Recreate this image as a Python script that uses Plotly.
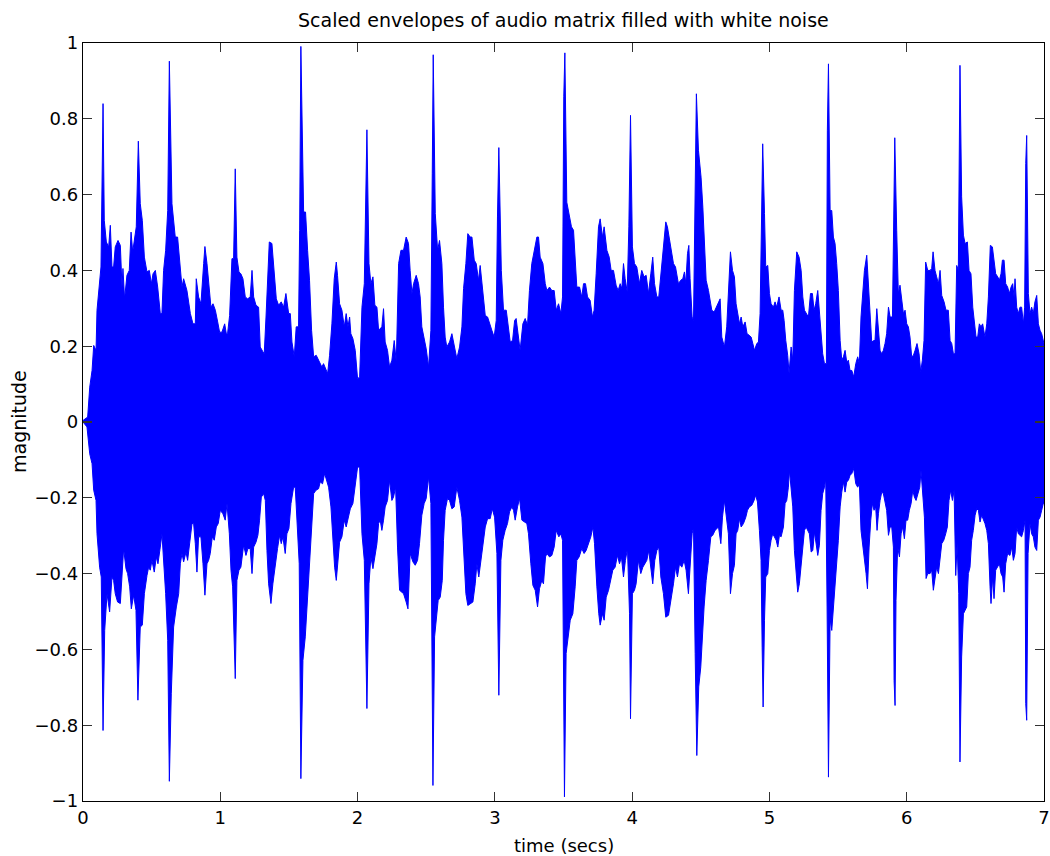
import plotly.graph_objects as go

# Upper envelope of the waveform (time in seconds, magnitude)
t_upper = [0.000, 0.017, 0.034, 0.049, 0.066, 0.078, 0.095, 0.102, 0.121, 0.131, 0.146, 0.155, 0.170, 0.187, 0.199, 0.211, 0.223, 0.235, 0.255, 0.272,
           0.284, 0.291, 0.303, 0.320, 0.337, 0.350, 0.362, 0.376, 0.388, 0.403, 0.417, 0.432, 0.447, 0.466, 0.483, 0.498, 0.510, 0.527, 0.544, 0.563,
           0.575, 0.587, 0.602, 0.617, 0.629, 0.648, 0.672, 0.689, 0.704, 0.721, 0.733, 0.757, 0.782, 0.801, 0.818, 0.825, 0.842, 0.859, 0.879, 0.888,
           0.903, 0.915, 0.932, 0.947, 0.964, 0.981, 0.995, 1.012, 1.032, 1.044, 1.053, 1.068, 1.085, 1.097, 1.109, 1.121, 1.136, 1.150, 1.165, 1.182,
           1.199, 1.218, 1.231, 1.243, 1.260, 1.279, 1.291, 1.311, 1.320, 1.333, 1.347, 1.357, 1.376, 1.388, 1.408, 1.425, 1.444, 1.461, 1.478, 1.498,
           1.510, 1.522, 1.539, 1.553, 1.570, 1.578, 1.587, 1.607, 1.621, 1.636, 1.650, 1.665, 1.680, 1.699, 1.716, 1.728, 1.740, 1.752, 1.769, 1.782,
           1.796, 1.813, 1.830, 1.845, 1.854, 1.869, 1.886, 1.903, 1.917, 1.930, 1.942, 1.951, 1.966, 1.983, 2.000, 2.015, 2.032, 2.049, 2.068, 2.083,
           2.097, 2.112, 2.126, 2.141, 2.153, 2.165, 2.177, 2.189, 2.201, 2.218, 2.233, 2.250, 2.267, 2.282, 2.299, 2.316, 2.335, 2.354, 2.371, 2.383,
           2.396, 2.408, 2.427, 2.444, 2.456, 2.468, 2.485, 2.500, 2.517, 2.534, 2.544, 2.551, 2.566, 2.583, 2.597, 2.614, 2.626, 2.638, 2.650, 2.670,
           2.687, 2.704, 2.723, 2.743, 2.760, 2.772, 2.789, 2.803, 2.820, 2.833, 2.850, 2.864, 2.881, 2.893, 2.910, 2.930, 2.947, 2.961, 2.978, 2.995,
           3.010, 3.019, 3.029, 3.047, 3.063, 3.083, 3.100, 3.112, 3.129, 3.144, 3.155, 3.172, 3.184, 3.204, 3.221, 3.238, 3.252, 3.269, 3.286, 3.306,
           3.318, 3.330, 3.350, 3.367, 3.379, 3.398, 3.415, 3.432, 3.447, 3.464, 3.481, 3.493, 3.502, 3.510, 3.524, 3.544, 3.558, 3.573, 3.585, 3.597,
           3.617, 3.633, 3.646, 3.660, 3.675, 3.694, 3.711, 3.723, 3.738, 3.755, 3.767, 3.784, 3.796, 3.816, 3.833, 3.847, 3.864, 3.883, 3.898, 3.913,
           3.925, 3.937, 3.949, 3.964, 3.976, 3.988, 4.002, 4.017, 4.034, 4.053, 4.070, 4.087, 4.102, 4.119, 4.136, 4.150, 4.163, 4.180, 4.194, 4.209,
           4.228, 4.245, 4.257, 4.272, 4.289, 4.301, 4.316, 4.325, 4.337, 4.354, 4.369, 4.381, 4.391, 4.403, 4.413, 4.422, 4.437, 4.447, 4.459, 4.468,
           4.483, 4.502, 4.515, 4.524, 4.539, 4.556, 4.568, 4.580, 4.597, 4.641, 4.653, 4.672, 4.689, 4.701, 4.716, 4.731, 4.745, 4.757, 4.769, 4.782,
           4.794, 4.806, 4.823, 4.837, 4.852, 4.867, 4.879, 4.891, 4.908, 4.920, 4.932, 4.944, 4.951, 4.964, 4.973, 4.988, 5.000, 5.012, 5.029, 5.041,
           5.053, 5.070, 5.085, 5.097, 5.107, 5.119, 5.133, 5.143, 5.158, 5.170, 5.182, 5.199, 5.216, 5.231, 5.243, 5.255, 5.269, 5.284, 5.299, 5.313,
           5.325, 5.337, 5.352, 5.364, 5.376, 5.388, 5.401, 5.415, 5.422, 5.430, 5.442, 5.454, 5.466, 5.478, 5.490, 5.502, 5.515, 5.527, 5.539, 5.551,
           5.563, 5.575, 5.587, 5.600, 5.614, 5.629, 5.643, 5.655, 5.667, 5.680, 5.692, 5.709, 5.721, 5.733, 5.745, 5.760, 5.769, 5.782, 5.794, 5.806,
           5.818, 5.830, 5.842, 5.854, 5.867, 5.879, 5.896, 5.905, 5.913, 5.927, 5.939, 5.951, 5.964, 5.976, 5.988, 6.000, 6.012, 6.024, 6.036, 6.049,
           6.061, 6.075, 6.090, 6.102, 6.114, 6.126, 6.138, 6.153, 6.170, 6.182, 6.192, 6.206, 6.218, 6.231, 6.243, 6.255, 6.272, 6.286, 6.303, 6.316,
           6.328, 6.340, 6.352, 6.364, 6.376, 6.388, 6.400, 6.413, 6.425, 6.442, 6.454, 6.468, 6.481, 6.493, 6.505, 6.517, 6.529, 6.541, 6.553, 6.570,
           6.583, 6.595, 6.609, 6.624, 6.636, 6.648, 6.663, 6.675, 6.687, 6.697, 6.709, 6.721, 6.735, 6.748, 6.760, 6.772, 6.782, 6.789, 6.801, 6.813,
           6.825, 6.837, 6.850, 6.859, 6.867, 6.874, 6.886, 6.898, 6.910, 6.922, 6.934, 6.947, 6.959, 6.971, 6.983, 6.995, 7.000]
v_upper = [0.004, 0.009, 0.013, 0.092, 0.136, 0.202, 0.189, 0.295, 0.383, 0.409, 0.840, 0.532, 0.475, 0.462, 0.519, 0.409, 0.409, 0.462, 0.479, 0.466,
           0.356, 0.405, 0.325, 0.387, 0.400, 0.501, 0.449, 0.488, 0.515, 0.741, 0.576, 0.532, 0.435, 0.396, 0.400, 0.365, 0.391, 0.400, 0.356, 0.286,
           0.286, 0.400, 0.453, 0.558, 0.952, 0.576, 0.488, 0.488, 0.427, 0.356, 0.378, 0.347, 0.286, 0.259, 0.259, 0.378, 0.330, 0.312, 0.418, 0.463,
           0.418, 0.365, 0.303, 0.312, 0.295, 0.264, 0.237, 0.237, 0.259, 0.233, 0.233, 0.281, 0.431, 0.431, 0.668, 0.435, 0.396, 0.391, 0.378, 0.330,
           0.325, 0.330, 0.400, 0.330, 0.308, 0.303, 0.198, 0.185, 0.180, 0.277, 0.418, 0.475, 0.471, 0.418, 0.325, 0.308, 0.317, 0.303, 0.339, 0.286,
           0.286, 0.211, 0.172, 0.251, 0.251, 0.506, 0.991, 0.554, 0.554, 0.453, 0.374, 0.242, 0.172, 0.176, 0.163, 0.158, 0.145, 0.154, 0.141, 0.128,
           0.176, 0.259, 0.378, 0.422, 0.387, 0.312, 0.295, 0.251, 0.286, 0.251, 0.277, 0.233, 0.220, 0.189, 0.114, 0.119, 0.303, 0.365, 0.771, 0.418,
           0.365, 0.383, 0.308, 0.303, 0.242, 0.246, 0.251, 0.299, 0.211, 0.189, 0.145, 0.163, 0.215, 0.158, 0.418, 0.453, 0.453, 0.488, 0.471, 0.400,
           0.339, 0.365, 0.387, 0.365, 0.330, 0.251, 0.215, 0.193, 0.145, 0.242, 0.655, 0.969, 0.550, 0.453, 0.479, 0.418, 0.303, 0.224, 0.198, 0.211,
           0.233, 0.198, 0.167, 0.198, 0.251, 0.352, 0.418, 0.497, 0.488, 0.488, 0.427, 0.418, 0.374, 0.413, 0.352, 0.281, 0.277, 0.259, 0.242, 0.224,
           0.268, 0.541, 0.724, 0.400, 0.295, 0.295, 0.242, 0.211, 0.215, 0.268, 0.273, 0.220, 0.189, 0.259, 0.273, 0.255, 0.347, 0.418, 0.453, 0.488,
           0.488, 0.435, 0.418, 0.365, 0.347, 0.356, 0.347, 0.347, 0.295, 0.312, 0.286, 0.330, 0.858, 0.974, 0.580, 0.541, 0.515, 0.506, 0.427, 0.356,
           0.356, 0.330, 0.365, 0.365, 0.330, 0.321, 0.277, 0.295, 0.391, 0.515, 0.536, 0.488, 0.515, 0.453, 0.435, 0.400, 0.400, 0.361, 0.347, 0.365,
           0.352, 0.418, 0.378, 0.343, 0.515, 0.809, 0.462, 0.418, 0.409, 0.365, 0.400, 0.383, 0.387, 0.339, 0.391, 0.435, 0.365, 0.330, 0.330, 0.387,
           0.471, 0.528, 0.515, 0.479, 0.435, 0.418, 0.409, 0.387, 0.365, 0.374, 0.378, 0.396, 0.365, 0.444, 0.466, 0.378, 0.277, 0.268, 0.726, 0.866,
           0.717, 0.646, 0.567, 0.488, 0.374, 0.347, 0.325, 0.295, 0.290, 0.325, 0.224, 0.198, 0.251, 0.330, 0.449, 0.400, 0.383, 0.312, 0.286, 0.259,
           0.277, 0.251, 0.264, 0.233, 0.229, 0.224, 0.207, 0.189, 0.207, 0.211, 0.286, 0.611, 0.734, 0.550, 0.409, 0.413, 0.339, 0.312, 0.303, 0.317,
           0.303, 0.330, 0.295, 0.295, 0.268, 0.215, 0.176, 0.128, 0.198, 0.163, 0.347, 0.449, 0.435, 0.400, 0.330, 0.295, 0.286, 0.277, 0.339, 0.339,
           0.295, 0.312, 0.347, 0.295, 0.233, 0.180, 0.154, 0.154, 0.770, 0.945, 0.558, 0.558, 0.488, 0.471, 0.418, 0.347, 0.215, 0.163, 0.172, 0.189,
           0.158, 0.163, 0.136, 0.136, 0.119, 0.154, 0.172, 0.154, 0.277, 0.347, 0.400, 0.440, 0.356, 0.259, 0.211, 0.215, 0.215, 0.299, 0.242, 0.189,
           0.180, 0.189, 0.207, 0.233, 0.303, 0.277, 0.277, 0.558, 0.750, 0.506, 0.339, 0.361, 0.321, 0.286, 0.295, 0.259, 0.251, 0.224, 0.172, 0.176,
           0.189, 0.207, 0.180, 0.132, 0.163, 0.215, 0.422, 0.400, 0.400, 0.405, 0.449, 0.400, 0.383, 0.365, 0.400, 0.334, 0.317, 0.295, 0.295, 0.215,
           0.207, 0.180, 0.180, 0.413, 0.400, 0.941, 0.594, 0.493, 0.471, 0.475, 0.400, 0.391, 0.303, 0.268, 0.224, 0.224, 0.259, 0.251, 0.259, 0.224,
           0.259, 0.330, 0.466, 0.462, 0.418, 0.391, 0.383, 0.374, 0.391, 0.427, 0.427, 0.365, 0.356, 0.339, 0.356, 0.365, 0.330, 0.378, 0.303, 0.286,
           0.303, 0.303, 0.259, 0.303, 0.682, 0.756, 0.339, 0.286, 0.303, 0.286, 0.317, 0.334, 0.259, 0.242, 0.233, 0.207, 0.207]

# Lower envelope of the waveform
t_lower = [0.000, 0.029, 0.049, 0.066, 0.078, 0.095, 0.102, 0.121, 0.133, 0.146, 0.158, 0.175, 0.194, 0.211, 0.223, 0.235, 0.252, 0.272, 0.284, 0.296,
           0.313, 0.325, 0.340, 0.352, 0.369, 0.386, 0.400, 0.417, 0.432, 0.447, 0.466, 0.478, 0.490, 0.502, 0.519, 0.534, 0.546, 0.563, 0.575, 0.592,
           0.602, 0.617, 0.629, 0.643, 0.660, 0.680, 0.697, 0.709, 0.721, 0.733, 0.750, 0.762, 0.777, 0.794, 0.806, 0.818, 0.830, 0.842, 0.859, 0.874,
           0.888, 0.903, 0.915, 0.927, 0.942, 0.956, 0.971, 0.985, 1.000, 1.019, 1.036, 1.049, 1.066, 1.078, 1.090, 1.109, 1.121, 1.136, 1.150, 1.170,
           1.187, 1.201, 1.218, 1.231, 1.243, 1.260, 1.274, 1.286, 1.299, 1.316, 1.328, 1.340, 1.352, 1.369, 1.383, 1.400, 1.417, 1.432, 1.444, 1.456,
           1.473, 1.485, 1.500, 1.515, 1.534, 1.546, 1.558, 1.575, 1.587, 1.602, 1.619, 1.636, 1.650, 1.667, 1.680, 1.697, 1.716, 1.728, 1.745, 1.760,
           1.777, 1.789, 1.806, 1.820, 1.833, 1.845, 1.857, 1.869, 1.886, 1.903, 1.917, 1.934, 1.947, 1.966, 1.983, 2.000, 2.015, 2.032, 2.049, 2.068,
           2.083, 2.097, 2.112, 2.126, 2.141, 2.153, 2.165, 2.177, 2.189, 2.201, 2.218, 2.233, 2.250, 2.262, 2.277, 2.291, 2.306, 2.335, 2.354, 2.367,
           2.383, 2.403, 2.420, 2.437, 2.451, 2.468, 2.485, 2.500, 2.517, 2.534, 2.541, 2.549, 2.561, 2.573, 2.587, 2.602, 2.617, 2.626, 2.638, 2.655,
           2.670, 2.687, 2.704, 2.723, 2.743, 2.760, 2.772, 2.789, 2.803, 2.820, 2.840, 2.857, 2.869, 2.883, 2.898, 2.917, 2.930, 2.947, 2.966, 2.981,
           2.998, 3.015, 3.029, 3.044, 3.058, 3.075, 3.092, 3.107, 3.124, 3.136, 3.148, 3.165, 3.180, 3.197, 3.214, 3.233, 3.245, 3.262, 3.277, 3.294,
           3.311, 3.325, 3.342, 3.354, 3.369, 3.379, 3.398, 3.415, 3.432, 3.447, 3.466, 3.481, 3.493, 3.500, 3.507, 3.519, 3.532, 3.549, 3.568, 3.585,
           3.597, 3.614, 3.633, 3.650, 3.665, 3.682, 3.699, 3.714, 3.726, 3.743, 3.757, 3.767, 3.784, 3.796, 3.811, 3.828, 3.845, 3.859, 3.876, 3.893,
           3.908, 3.922, 3.937, 3.951, 3.966, 3.981, 3.988, 4.002, 4.017, 4.029, 4.046, 4.063, 4.078, 4.095, 4.107, 4.121, 4.136, 4.150, 4.165, 4.180,
           4.194, 4.209, 4.228, 4.245, 4.265, 4.282, 4.301, 4.316, 4.330, 4.345, 4.362, 4.379, 4.393, 4.410, 4.422, 4.437, 4.447, 4.459, 4.471, 4.485,
           4.500, 4.512, 4.524, 4.539, 4.556, 4.573, 4.587, 4.604, 4.629, 4.646, 4.658, 4.672, 4.684, 4.701, 4.716, 4.731, 4.745, 4.757, 4.769, 4.782,
           4.794, 4.811, 4.828, 4.840, 4.854, 4.871, 4.888, 4.900, 4.913, 4.927, 4.939, 4.947, 4.954, 4.964, 4.973, 4.988, 5.000, 5.012, 5.024, 5.036,
           5.049, 5.061, 5.073, 5.085, 5.102, 5.114, 5.126, 5.138, 5.146, 5.158, 5.170, 5.182, 5.194, 5.206, 5.218, 5.231, 5.243, 5.255, 5.267, 5.279,
           5.291, 5.304, 5.316, 5.328, 5.340, 5.352, 5.364, 5.376, 5.388, 5.401, 5.410, 5.420, 5.430, 5.442, 5.454, 5.466, 5.478, 5.490, 5.502, 5.515,
           5.527, 5.539, 5.551, 5.563, 5.575, 5.587, 5.600, 5.614, 5.629, 5.643, 5.655, 5.667, 5.680, 5.692, 5.704, 5.714, 5.726, 5.738, 5.750, 5.762,
           5.774, 5.784, 5.794, 5.806, 5.818, 5.830, 5.842, 5.854, 5.867, 5.879, 5.891, 5.903, 5.908, 5.915, 5.922, 5.934, 5.947, 5.959, 5.971, 5.983,
           5.995, 6.007, 6.019, 6.032, 6.044, 6.056, 6.068, 6.080, 6.095, 6.104, 6.117, 6.129, 6.141, 6.153, 6.170, 6.182, 6.194, 6.206, 6.218, 6.231,
           6.243, 6.255, 6.270, 6.284, 6.296, 6.308, 6.320, 6.333, 6.345, 6.357, 6.367, 6.379, 6.388, 6.400, 6.413, 6.425, 6.437, 6.449, 6.461, 6.473,
           6.485, 6.498, 6.510, 6.522, 6.534, 6.546, 6.558, 6.570, 6.583, 6.595, 6.607, 6.614, 6.626, 6.636, 6.648, 6.663, 6.675, 6.687, 6.699, 6.709,
           6.721, 6.735, 6.752, 6.765, 6.777, 6.789, 6.801, 6.813, 6.825, 6.837, 6.850, 6.862, 6.867, 6.874, 6.884, 6.898, 6.910, 6.922, 6.934, 6.947,
           6.959, 6.971, 6.983, 6.995, 7.000]
v_lower = [-0.000, -0.013, -0.084, -0.110, -0.180, -0.207, -0.295, -0.383, -0.409, -0.814, -0.550, -0.453, -0.501, -0.409, -0.418, -0.453, -0.475, -0.479, -0.409, -0.334,
           -0.387, -0.400, -0.435, -0.493, -0.457, -0.497, -0.734, -0.541, -0.536, -0.453, -0.405, -0.383, -0.391, -0.365, -0.396, -0.356, -0.374, -0.330, -0.295, -0.383,
           -0.453, -0.576, -0.948, -0.717, -0.541, -0.488, -0.453, -0.374, -0.347, -0.369, -0.343, -0.365, -0.330, -0.268, -0.268, -0.321, -0.396, -0.303, -0.303, -0.374,
           -0.457, -0.374, -0.365, -0.347, -0.303, -0.312, -0.277, -0.268, -0.233, -0.242, -0.259, -0.215, -0.295, -0.391, -0.435, -0.677, -0.418, -0.391, -0.383, -0.325,
           -0.352, -0.334, -0.334, -0.400, -0.330, -0.317, -0.299, -0.259, -0.198, -0.189, -0.207, -0.339, -0.427, -0.479, -0.427, -0.374, -0.334, -0.299, -0.321, -0.303,
           -0.347, -0.295, -0.281, -0.215, -0.172, -0.172, -0.259, -0.374, -0.941, -0.629, -0.567, -0.462, -0.383, -0.277, -0.189, -0.180, -0.176, -0.158, -0.163, -0.136,
           -0.154, -0.172, -0.224, -0.295, -0.383, -0.418, -0.374, -0.317, -0.303, -0.259, -0.277, -0.251, -0.229, -0.215, -0.176, -0.119, -0.119, -0.295, -0.365, -0.756,
           -0.427, -0.356, -0.387, -0.356, -0.321, -0.268, -0.259, -0.286, -0.259, -0.224, -0.207, -0.154, -0.207, -0.198, -0.172, -0.330, -0.444, -0.453, -0.475, -0.493,
           -0.347, -0.369, -0.378, -0.365, -0.321, -0.246, -0.215, -0.202, -0.145, -0.215, -0.646, -0.959, -0.567, -0.515, -0.471, -0.462, -0.418, -0.312, -0.233, -0.202,
           -0.207, -0.229, -0.224, -0.172, -0.207, -0.251, -0.352, -0.453, -0.484, -0.479, -0.475, -0.427, -0.374, -0.409, -0.365, -0.312, -0.277, -0.255, -0.255, -0.229,
           -0.251, -0.347, -0.721, -0.365, -0.312, -0.286, -0.268, -0.237, -0.224, -0.233, -0.259, -0.224, -0.202, -0.259, -0.264, -0.268, -0.295, -0.374, -0.431, -0.444,
           -0.488, -0.440, -0.418, -0.427, -0.356, -0.347, -0.356, -0.352, -0.330, -0.286, -0.303, -0.295, -0.312, -0.523, -0.989, -0.611, -0.572, -0.523, -0.506, -0.435,
           -0.365, -0.356, -0.334, -0.347, -0.339, -0.321, -0.303, -0.277, -0.321, -0.435, -0.506, -0.536, -0.506, -0.523, -0.462, -0.444, -0.418, -0.391, -0.383, -0.352,
           -0.374, -0.356, -0.409, -0.365, -0.334, -0.506, -0.783, -0.453, -0.444, -0.427, -0.365, -0.400, -0.383, -0.374, -0.365, -0.339, -0.383, -0.427, -0.365, -0.339,
           -0.330, -0.409, -0.453, -0.515, -0.510, -0.471, -0.427, -0.383, -0.409, -0.374, -0.383, -0.365, -0.391, -0.453, -0.383, -0.295, -0.277, -0.611, -0.880, -0.699,
           -0.646, -0.567, -0.488, -0.418, -0.365, -0.303, -0.299, -0.286, -0.277, -0.321, -0.251, -0.207, -0.251, -0.295, -0.453, -0.400, -0.378, -0.295, -0.286, -0.255,
           -0.277, -0.268, -0.251, -0.233, -0.224, -0.220, -0.207, -0.193, -0.211, -0.286, -0.365, -0.594, -0.752, -0.523, -0.409, -0.400, -0.339, -0.312, -0.295, -0.303,
           -0.312, -0.330, -0.299, -0.303, -0.277, -0.215, -0.207, -0.172, -0.128, -0.180, -0.224, -0.339, -0.391, -0.449, -0.427, -0.391, -0.339, -0.286, -0.277, -0.286,
           -0.295, -0.343, -0.339, -0.290, -0.312, -0.352, -0.325, -0.233, -0.189, -0.172, -0.150, -0.488, -0.937, -0.519, -0.550, -0.471, -0.418, -0.374, -0.312, -0.224,
           -0.185, -0.158, -0.185, -0.158, -0.154, -0.141, -0.136, -0.123, -0.163, -0.172, -0.163, -0.286, -0.339, -0.365, -0.400, -0.440, -0.330, -0.259, -0.215, -0.233,
           -0.224, -0.286, -0.242, -0.207, -0.185, -0.189, -0.211, -0.233, -0.299, -0.277, -0.277, -0.330, -0.682, -0.748, -0.471, -0.330, -0.356, -0.295, -0.277, -0.308,
           -0.259, -0.259, -0.233, -0.215, -0.180, -0.198, -0.207, -0.189, -0.172, -0.128, -0.185, -0.251, -0.413, -0.400, -0.400, -0.391, -0.444, -0.409, -0.383, -0.400,
           -0.365, -0.321, -0.312, -0.295, -0.277, -0.207, -0.180, -0.207, -0.180, -0.405, -0.321, -0.453, -0.897, -0.620, -0.506, -0.497, -0.488, -0.400, -0.383, -0.312,
           -0.286, -0.246, -0.229, -0.233, -0.264, -0.246, -0.259, -0.268, -0.286, -0.321, -0.435, -0.479, -0.409, -0.466, -0.391, -0.383, -0.374, -0.400, -0.409, -0.449,
           -0.374, -0.347, -0.352, -0.330, -0.365, -0.347, -0.277, -0.295, -0.299, -0.303, -0.286, -0.259, -0.743, -0.787, -0.347, -0.268, -0.295, -0.303, -0.330, -0.339,
           -0.259, -0.251, -0.233, -0.215, -0.215]

x_ticks = [0, 1, 2, 3, 4, 5, 6, 7]
y_ticks = [-1, -0.8, -0.6, -0.4, -0.2, 0, 0.2, 0.4, 0.6, 0.8, 1]
y_ticklabels = ["\u22121", "\u22120.8", "\u22120.6", "\u22120.4", "\u22120.2", "0", "0.2", "0.4", "0.6", "0.8", "1"]

title_text = "Scaled envelopes of audio matrix filled with white noise"
x_label = "time (secs)"
y_label = "magnitude"

poly_x = list(t_upper) + list(reversed(t_lower))
poly_y = list(v_upper) + list(reversed(v_lower))

fig = go.Figure()
fig.add_trace(go.Scatter(
    x=poly_x, y=poly_y, mode="lines", fill="toself",
    fillcolor="#0000FF", line=dict(color="#0000FF", width=1),
    hoverinfo="skip", showlegend=False,
))

FONT = "DejaVu Sans, Liberation Sans, sans-serif"
axis_common = dict(
    showline=True, linecolor="black", linewidth=1.3, mirror="ticks",
    ticks="inside", ticklen=9, tickwidth=1.2, tickcolor="#333333",
    showgrid=False, zeroline=False, automargin=False,
    tickfont=dict(family=FONT, size=18, color="black"),
)
fig.update_xaxes(range=[0, 7], tickvals=x_ticks, ticktext=[str(v) for v in x_ticks], **axis_common)
fig.update_yaxes(range=[-1, 1], tickvals=y_ticks, ticktext=y_ticklabels, **axis_common)

fig.update_layout(
    width=1050, height=856,
    margin=dict(l=83, r=6, t=43, b=55, autoexpand=False),
    paper_bgcolor="white", plot_bgcolor="white",
    showlegend=False,
    annotations=[
        dict(text=title_text, xref="paper", yref="paper", x=0.5, y=1 + 23 / 758,
             xanchor="center", yanchor="middle", showarrow=False,
             font=dict(family=FONT, size=19, color="black")),
        dict(text=x_label, xref="paper", yref="paper", x=0.5, y=-45 / 758,
             xanchor="center", yanchor="middle", showarrow=False,
             font=dict(family=FONT, size=18, color="black")),
        dict(text=y_label, xref="paper", yref="paper", x=-64 / 961, y=0.5,
             xanchor="center", yanchor="middle", textangle=-90, showarrow=False,
             font=dict(family=FONT, size=19, color="black")),
    ],
)

fig.write_html(
    "out.html",
    config={"displayModeBar": False, "staticPlot": True},
    post_script="document.body.style.margin='0';document.body.style.overflow='hidden';",
)
